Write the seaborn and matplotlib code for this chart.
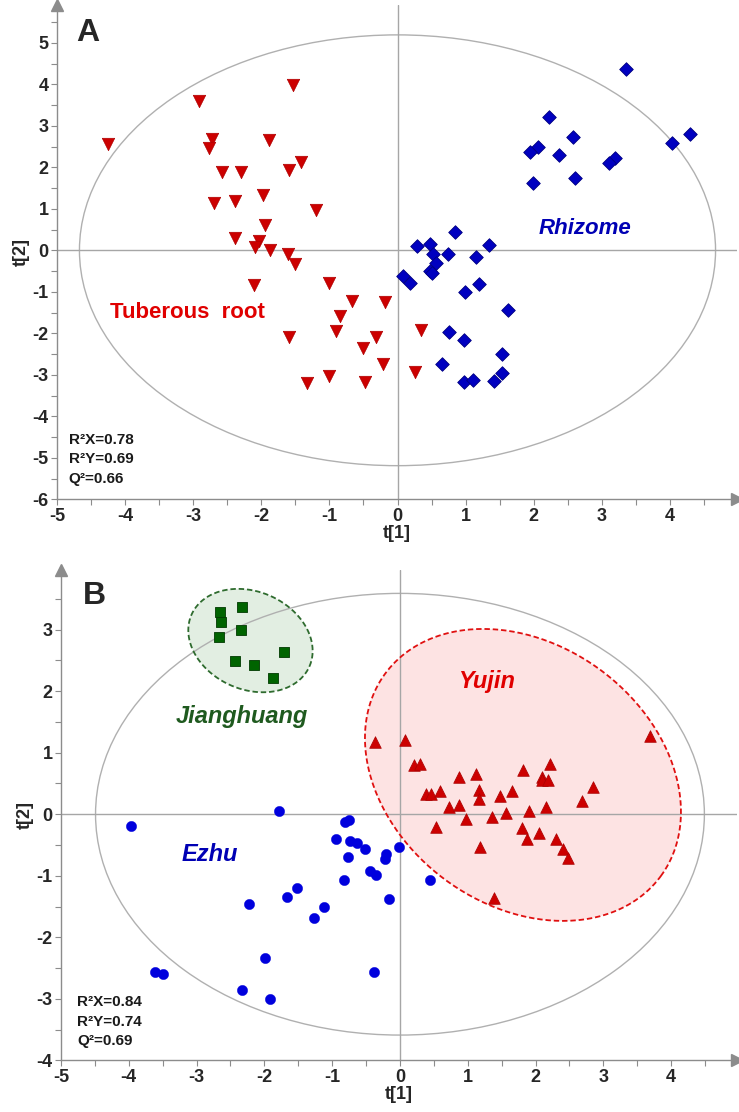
import numpy as np
import pandas as pd
import matplotlib
matplotlib.use("Agg")
import matplotlib.pyplot as plt
from matplotlib.patches import Ellipse
from matplotlib.ticker import MultipleLocator
import seaborn as sns

# ---------------- data: panel A ----------------
tr_x = [-4.25, -2.92, -1.54, -2.73, -2.77, -1.89, -2.57, -2.30, -1.59, -1.42, -2.70, -2.39,
        -1.98, -1.19, -1.95, -2.38, -2.04, -2.09, -1.87, -1.61, -1.51, -2.11, -1.01, -0.67,
        -0.84, -0.91, -1.60, -0.50, -1.33, -1.01, -0.47, -0.19, 0.34, -0.32, -0.22, 0.26]
tr_y = [2.55, 3.59, 3.99, 2.68, 2.47, 2.65, 1.88, 1.88, 1.93, 2.12, 1.13, 1.18,
        1.34, 0.96, 0.60, 0.29, 0.22, 0.08, 0.00, -0.10, -0.32, -0.83, -0.79, -1.23,
        -1.59, -1.95, -2.09, -2.35, -3.21, -3.04, -3.18, -1.25, -1.91, -2.09, -2.75, -2.93]
rh_x = [3.36, 2.23, 2.57, 2.07, 1.94, 2.37, 3.19, 3.10, 4.03, 4.30, 1.99, 2.61, 0.85, 0.28,
        0.48, 1.35, 0.52, 0.74, 1.15, 0.57, 0.47, 0.51, 0.08, 0.19, 0.99, 1.19, 1.62, 0.76,
        0.98, 1.54, 0.65, 1.54, 0.97, 1.11, 1.41]
rh_y = [4.38, 3.21, 2.73, 2.48, 2.37, 2.29, 2.23, 2.11, 2.59, 2.81, 1.61, 1.74, 0.44, 0.10,
        0.16, 0.12, -0.10, -0.08, -0.16, -0.30, -0.49, -0.55, -0.61, -0.79, -1.01, -0.81, -1.45, -1.97,
        -2.17, -2.49, -2.73, -2.95, -3.18, -3.13, -3.16]
stats_a = ["R\u00b2X=0.78", "R\u00b2Y=0.69", "Q\u00b2=0.66"]

# ---------------- data: panel B ----------------
jh_x = [-2.65, -2.64, -2.33, -2.34, -2.67, -2.44, -2.15, -1.71, -1.88]
jh_y = [3.29, 3.12, 3.37, 3.00, 2.88, 2.49, 2.42, 2.64, 2.22]
ez_x = [-3.97, -1.78, -0.81, -0.75, -0.94, -0.74, -0.64, -0.52, -0.77, -0.44, -0.82, -1.52,
        -1.66, -2.23, -1.12, -1.27, -1.99, -3.61, -3.49, -2.33, -1.92, -0.39, -0.20, -0.22,
        -0.01, -0.35, 0.45, -0.16]
ez_y = [-0.19, 0.06, -0.12, -0.10, -0.40, -0.43, -0.46, -0.57, -0.70, -0.92, -1.07, -1.20,
        -1.34, -1.46, -1.51, -1.69, -2.33, -2.57, -2.59, -2.85, -3.01, -2.56, -0.65, -0.72,
        -0.54, -0.98, -1.07, -1.37]
yj_x = [-0.37, 0.07, 3.69, 0.20, 0.29, 0.87, 1.12, 1.82, 2.21, 2.10, 2.10, 2.19, 2.84, 0.39,
        0.46, 0.59, 1.17, 1.17, 1.65, 1.47, 2.68, 0.73, 0.87, 1.91, 2.15, 1.57, 0.98, 1.36,
        0.53, 1.80, 2.05, 1.88, 2.30, 1.18, 2.40, 2.48, 1.39]
yj_y = [1.18, 1.20, 1.27, 0.80, 0.82, 0.60, 0.65, 0.72, 0.82, 0.60, 0.55, 0.55, 0.45, 0.33,
        0.33, 0.37, 0.40, 0.25, 0.37, 0.29, 0.21, 0.11, 0.15, 0.06, 0.11, 0.02, -0.07, -0.04,
        -0.20, -0.22, -0.30, -0.41, -0.41, -0.54, -0.56, -0.71, -1.36]
stats_b = ["R\u00b2X=0.84", "R\u00b2Y=0.74", "Q\u00b2=0.69"]

# Hotelling ellipse semi-axes (t[1], t[2])
hot_a = (4.67, 5.19)
hot_b = (4.49, 3.59)

sns.set_style("white")
plt.rcParams['font.family'] = ['Liberation Sans', 'DejaVu Sans']
plt.rcParams['axes.unicode_minus'] = False

fig = plt.figure(figsize=(7.39, 11.12), dpi=100)
axA = fig.add_axes([0.0771, 0.5510, 0.9202, 0.4445])
axB = fig.add_axes([0.0825, 0.0465, 0.9147, 0.4409])

GRAY = '#8c8c8c'


def style_axes(ax, xlim, ylim, yticks):
    ax.set_xlim(*xlim)
    ax.set_ylim(*ylim)
    for s in ['top', 'right']:
        ax.spines[s].set_visible(False)
    for s in ['left', 'bottom']:
        ax.spines[s].set_color(GRAY)
        ax.spines[s].set_linewidth(1.0)
    ax.set_xticks(np.arange(-5, 5, 1))
    ax.set_yticks(yticks)
    ax.xaxis.set_minor_locator(MultipleLocator(0.5))
    ax.yaxis.set_minor_locator(MultipleLocator(0.5))
    ax.tick_params(which='both', direction='out', color=GRAY, width=0.8, length=4,
                   bottom=True, left=True, labelsize=13, pad=2)
    for lab in ax.get_xticklabels() + ax.get_yticklabels():
        lab.set_fontweight('bold')
    ax.axhline(0, color='#a6a6a6', lw=1.0, zorder=1.2)
    ax.axvline(0, color='#a6a6a6', lw=1.0, zorder=1.2)
    ax.plot(1, 0, marker='>', ms=8, color=GRAY, transform=ax.transAxes, clip_on=False)
    ax.plot(0, 1, marker='^', ms=8, color=GRAY, transform=ax.transAxes, clip_on=False)
    ax.set_facecolor('white')


def tilted_ellipse(ax, center, a_px, b_px, angle, face, edge):
    t = np.linspace(0, 2 * np.pi, 400)
    phi = np.radians(angle)
    cx, cy = ax.transData.transform(center)
    x = a_px * np.cos(t) * np.cos(phi) - b_px * np.sin(t) * np.sin(phi)
    y = a_px * np.cos(t) * np.sin(phi) + b_px * np.sin(t) * np.cos(phi)
    pts = ax.transData.inverted().transform(np.column_stack([cx + x, cy + y]))
    ax.fill(pts[:, 0], pts[:, 1], color=face, zorder=1.0, lw=0)
    ax.plot(pts[:, 0], pts[:, 1], color=edge, lw=1.3, ls=(0, (3, 1.6)), zorder=2)


# ---------------- Panel A ----------------
style_axes(axA, (-5, 4.985), (-6, 5.91), np.arange(-6, 6, 1))
axA.add_patch(Ellipse((0, 0), 2 * hot_a[0], 2 * hot_a[1], fill=False,
                      edgecolor='#b0b0b0', lw=1.0, zorder=1.1))
dfA1 = pd.DataFrame({'t1': tr_x, 't2': tr_y})
dfA2 = pd.DataFrame({'t1': rh_x, 't2': rh_y})
sns.scatterplot(data=dfA1, x='t1', y='t2', ax=axA, marker='v', s=80, color='#cc0000',
                edgecolor='#b00000', linewidth=0.5, zorder=3)
sns.scatterplot(data=dfA2, x='t1', y='t2', ax=axA, marker='D', s=48, color='#0000c0',
                edgecolor='#000080', linewidth=0.6, zorder=3)
axA.set_xlabel('t[1]', fontsize=13, fontweight='bold', labelpad=0)
axA.set_ylabel('t[2]', fontsize=13, fontweight='bold', labelpad=2)
axA.text(-4.55, 5.24, 'A', fontsize=23, fontweight='bold', ha='center', va='center')
axA.text(-3.09, -1.49, 'Tuberous  root', fontsize=16, fontweight='bold', color='#e00000',
         ha='center', va='center')
axA.text(2.75, 0.52, 'Rhizome', fontsize=16, fontweight='bold', fontstyle='italic',
         color='#0000b4', ha='center', va='center')
for i, s in enumerate(stats_a):
    axA.text(-4.83, -4.56 - 0.47 * i, s, fontsize=11, fontweight='bold', ha='left',
             va='center', color='#1a1a1a')

# ---------------- Panel B ----------------
style_axes(axB, (-5, 4.97), (-4, 3.97), np.arange(-4, 4, 1))
axB.add_patch(Ellipse((0, 0), 2 * hot_b[0], 2 * hot_b[1], fill=False,
                      edgecolor='#b0b0b0', lw=1.0, zorder=1.1))
tilted_ellipse(axB, (-2.205, 2.823), 64.4, 48.9, -23.6, '#e2eee2', '#2e6b2e')
tilted_ellipse(axB, (1.814, 0.639), 171, 130.5, -36.3, '#fde3e3', '#e01010')
dfB1 = pd.DataFrame({'t1': jh_x, 't2': jh_y})
dfB2 = pd.DataFrame({'t1': ez_x, 't2': ez_y})
dfB3 = pd.DataFrame({'t1': yj_x, 't2': yj_y})
sns.scatterplot(data=dfB1, x='t1', y='t2', ax=axB, marker='s', s=58, color='#006400',
                edgecolor='#003a00', linewidth=0.6, zorder=3)
sns.scatterplot(data=dfB2, x='t1', y='t2', ax=axB, marker='o', s=55, color='#0000dd',
                edgecolor='#0000dd', linewidth=0.3, zorder=3)
sns.scatterplot(data=dfB3, x='t1', y='t2', ax=axB, marker='^', s=70, color='#cc0000',
                edgecolor='#aa0000', linewidth=0.5, zorder=3)
axB.set_xlabel('t[1]', fontsize=13, fontweight='bold', labelpad=0)
axB.set_ylabel('t[2]', fontsize=13, fontweight='bold', labelpad=2)
axB.text(-4.5, 3.54, 'B', fontsize=23, fontweight='bold', ha='center', va='center')
axB.text(-2.33, 1.59, 'Jianghuang', fontsize=17, fontweight='bold', fontstyle='italic',
         color='#1f5a1f', ha='center', va='center')
axB.text(1.28, 2.16, 'Yujin', fontsize=17, fontweight='bold', fontstyle='italic',
         color='#e00000', ha='center', va='center')
axB.text(-2.80, -0.66, 'Ezhu', fontsize=17, fontweight='bold', fontstyle='italic',
         color='#0000b4', ha='center', va='center')
for i, s in enumerate(stats_b):
    axB.text(-4.76, -3.06 - 0.31 * i, s, fontsize=11, fontweight='bold', ha='left',
             va='center', color='#1a1a1a')

fig.savefig('out.png', dpi=100, facecolor='white')
